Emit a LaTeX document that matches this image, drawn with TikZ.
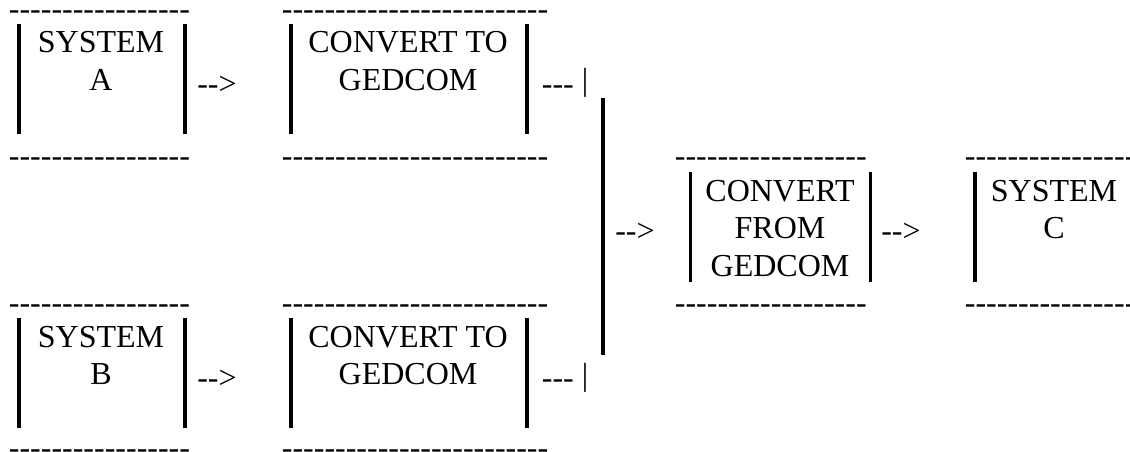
\documentclass[tikz,border=0pt]{standalone}
\usepackage{fontspec}
\setmainfont{Liberation Serif}[Ligatures=TeXOff]
\tikzset{
  lbl/.style={inner sep=0pt, font=\fontsize{32}{37.5}\selectfont},
  boxtext/.style={lbl, anchor=base},
  dashrow/.style={lbl, anchor=base west},
  vbar/.style={line width=3.3pt},
}
\newcommand\twolines[2]{\begin{tabular}[t]{@{}c@{}}#1\\#2\end{tabular}}
\newcommand\threelines[3]{\begin{tabular}[t]{@{}c@{}}#1\\#2\\#3\end{tabular}}
\begin{document}
\begin{tikzpicture}[x=1pt,y=-1pt]
\fill[white] (0,0) rectangle (1130,452);
\useasboundingbox (0,0) rectangle (1130,452);

% ---- columns 1 and 2 (systems A/B and their converters)
\foreach \r/\n/\b in {0/A/166.8,294/B/458.8}{
  \node[dashrow] (dt1\n) at (8.7,19.8+\r) {-----------------};
  \node[dashrow] (db1\n) at (8.7,\b) {-----------------};
  \draw[vbar] (19,24+\r) -- (19,134+\r);
  \draw[vbar] (185,24+\r) -- (185,134+\r);
  \node[boxtext] (ar\n) at (217,94+\r) {-->};
  \node[dashrow] (dt2\n) at (281.7,19.8+\r) {-------------------------};
  \node[dashrow] (db2\n) at (281.7,\b) {-------------------------};
  \draw[vbar] (291,24+\r) -- (291,134+\r);
  \draw[vbar] (527,24+\r) -- (527,134+\r);
  \node[dashrow] (join\n) at (541.7,91+\r) {\raisebox{-3pt}{---} |};
}
\node[boxtext] (sysA) at (101,53) {\twolines{SYSTEM}{A}};
\node[boxtext] (sysB) at (101,347) {\twolines{SYSTEM}{B}};
\node[boxtext] (convA) at (408,53) {\twolines{CONVERT TO}{GEDCOM}};
\node[boxtext] (convB) at (408,347) {\twolines{CONVERT TO}{GEDCOM}};

% ---- joining bar
\draw[vbar] (603,98) -- (603,355);
\node[boxtext] (arFrom) at (635,241) {-->};

% ---- column 3 (convert from GEDCOM)
\node[dashrow] (dt3) at (674.7,166.3) {------------------};
\node[dashrow] (db3) at (674.7,313.8) {------------------};
\draw[vbar] (690.5,172) -- (690.5,281.5);
\draw[vbar] (870.5,172) -- (870.5,281.5);
\node[boxtext] (convFrom) at (780,201) {\threelines{CONVERT}{FROM}{GEDCOM}};
\node[boxtext] (arC) at (901,241) {-->};

% ---- column 4 (system C)
\node[dashrow] (dt4) at (964.7,166.3) {------------------};
\node[dashrow] (db4) at (964.7,313.8) {------------------};
\draw[vbar] (975,172) -- (975,281.5);
\node[boxtext] (sysC) at (1054,201) {\twolines{SYSTEM}{C}};
\end{tikzpicture}
\end{document}
